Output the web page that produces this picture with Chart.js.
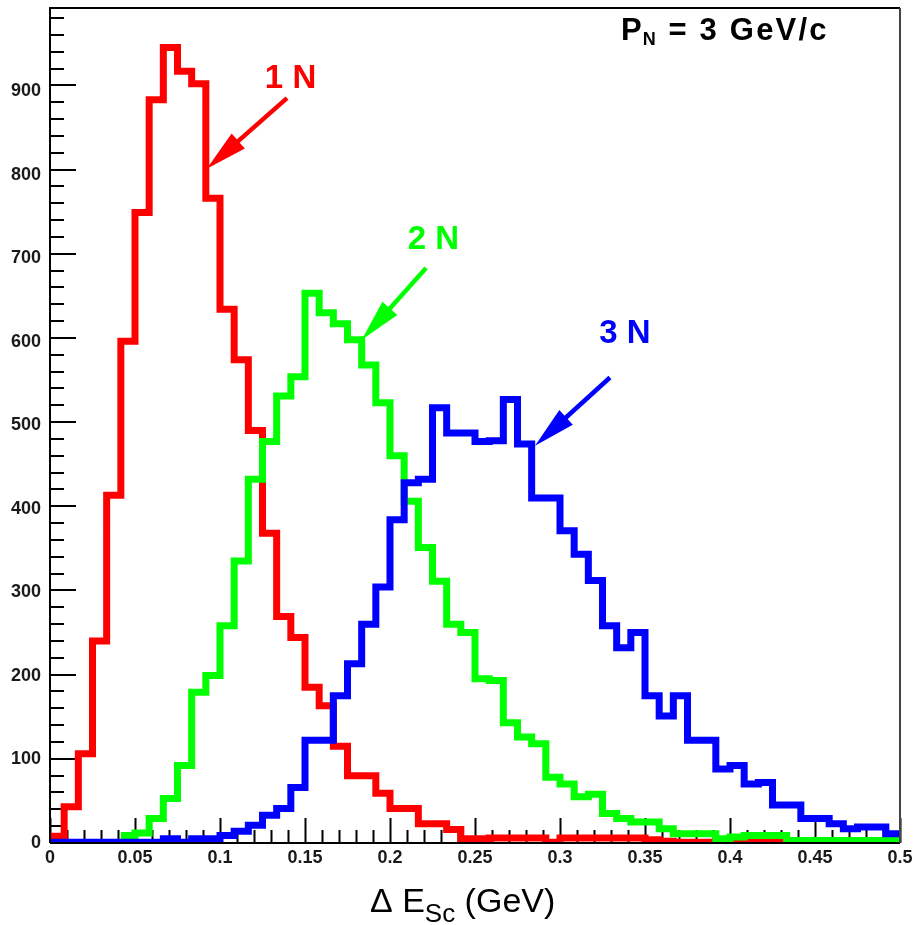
<!DOCTYPE html>
<html>
<head>
<meta charset="utf-8">
<script src="https://cdn.jsdelivr.net/npm/chart.js@4.4.1/dist/chart.umd.min.js"></script>
<style>
  html, body { margin: 0; padding: 0; background: #ffffff; }
  canvas { display: block; }
</style>
</head>
<body>
<canvas id="chart" width="917" height="925"></canvas>
<script>
// Histogram binning: 60 bins over 0 .. 0.5 GeV
const nBins = 60;
const xLow = 0;
const xHigh = 0.5;

// Counts per bin, one entry per bin (null = bin not filled / not drawn)
const counts1N = [
  8, 43, 106, 240, 413, 596, 749, 883, 945, 917,
  902, 766, 634, 574, 490, 368, 269, 244, 185, 163,
  115, 80, 80, 59, 41, 41, 23, 23, 16, 5,
  5, 6, 6, 6, 6, 1, 6, 6, 6, 6,
  6, 6, 4, 2, 1, 1, 1, 1, 1, 1,
  1, 1, 1, 0, 0, 0, 0, 0, 0, 0
];
const counts2N = [
  null, null, null, null, null, 9, 12, 29, 53, 92,
  179, 199, 258, 335, 432, 477, 531, 554, 653, 630,
  617, 598, 568, 523, 460, 406, 351, 311, 260, 250,
  195, 193, 143, 126, 118, 78, 70, 55, 58, 35,
  29, 25, 25, 17, 11, 11, 11, 5, 7, 9,
  9, 9, 3, 3, 3, 3, 3, 3, 3, 3
];
const counts3N = [
  1, 1, 1, 1, 1, 1, 1, 1, 5, 1,
  5, 5, 9, 14, 21, 33, 41, 66, 122, 122,
  175, 213, 260, 304, 384, 428, 432, 517, 487, 487,
  477, 478, 527, 474, 410, 410, 371, 343, 312, 258,
  232, 250, 175, 151, 175, 122, 122, 88, 92, 70,
  72, 45, 45, 29, 29, 23, 17, 19, 19, 11
];

const xTickLabels = ['0', '0.05', '0.1', '0.15', '0.2', '0.25', '0.3', '0.35', '0.4', '0.45', '0.5'];
const yTickLabels = ['0', '100', '200', '300', '400', '500', '600', '700', '800', '900'];
const yMax = 992;

// Arrow annotations pointing at each curve, in data coordinates
const annotations = [
  { text: '1 N', color: '#ff0000', label: [0.1415, 908], from: [0.1394, 885], to: [0.0922, 801] },
  { text: '2 N', color: '#00ff00', label: [0.2256, 716], from: [0.2212, 683], to: [0.1834, 598] },
  { text: '3 N', color: '#0000ff', label: [0.3382, 605], from: [0.3294, 553], to: [0.2853, 472] }
];

// Step-line vertices: one at the left edge of the first filled bin,
// then one at the right edge of every bin carrying that bin's count
function stepPoints(values) {
  const w = (xHigh - xLow) / nBins;
  const pts = [];
  let first = -1;
  values.forEach((v, k) => {
    if (v === null) return;
    if (first < 0) first = k;
    pts.push({ x: xLow + (k + 1) * w, y: v });
  });
  pts.unshift({ x: xLow + first * w, y: values[first] });
  return pts;
}

function histDataset(label, values, color) {
  return {
    label: label,
    data: stepPoints(values),
    stepped: 'after',
    borderColor: color,
    backgroundColor: color,
    borderWidth: 7,
    borderJoinStyle: 'miter',
    borderCapStyle: 'butt',
    pointRadius: 0,
    fill: false,
    tension: 0
  };
}

const FONT = "'Liberation Sans', Arial, Helvetica, sans-serif";

const decorations = {
  id: 'decorations',
  beforeDatasetsDraw(chart) {
    const ctx = chart.ctx;
    const xs = chart.scales.x, ys = chart.scales.y;
    const a = chart.chartArea;
    ctx.save();
    ctx.strokeStyle = '#000000';
    ctx.lineWidth = 2;
    ctx.beginPath();
    // x ticks every 0.01, major every 0.05
    for (let i = 0; i <= 50; i++) {
      const px = Math.round(xs.getPixelForValue(i / 100)) + 0.5;
      const len = (i % 5 === 0) ? 25 : 13;
      ctx.moveTo(px, a.bottom);
      ctx.lineTo(px, a.bottom - len);
    }
    // y ticks every 20, major every 100
    for (let i = 0; i * 20 < yMax; i++) {
      const py = Math.round(ys.getPixelForValue(i * 20));
      const len = (i % 5 === 0) ? 26 : 14;
      ctx.moveTo(a.left, py);
      ctx.lineTo(a.left + len, py);
    }
    ctx.stroke();
    ctx.restore();
  },
  afterDatasetsDraw(chart) {
    const ctx = chart.ctx;
    const xs = chart.scales.x, ys = chart.scales.y;
    const a = chart.chartArea;
    ctx.save();

    // frame
    ctx.lineWidth = 2;
    ctx.strokeStyle = '#000000';
    ctx.beginPath();
    ctx.moveTo(a.left, a.bottom);
    ctx.lineTo(a.left, a.top);
    ctx.lineTo(a.right, a.top);
    ctx.moveTo(a.left, a.bottom);
    ctx.lineTo(a.right, a.bottom);
    ctx.stroke();
    ctx.strokeStyle = '#444444';
    ctx.beginPath();
    ctx.moveTo(a.right, a.top);
    ctx.lineTo(a.right, a.bottom);
    ctx.stroke();

    // arrows + labels
    annotations.forEach(an => {
      const x0 = xs.getPixelForValue(an.from[0]), y0 = ys.getPixelForValue(an.from[1]);
      const x1 = xs.getPixelForValue(an.to[0]), y1 = ys.getPixelForValue(an.to[1]);
      const dx = x1 - x0, dy = y1 - y0;
      const L = Math.hypot(dx, dy);
      const ux = dx / L, uy = dy / L;
      const headLen = 42, headHalf = 10;
      const bx = x1 - ux * headLen, by = y1 - uy * headLen;
      ctx.strokeStyle = an.color;
      ctx.fillStyle = an.color;
      ctx.lineWidth = 4.5;
      ctx.lineCap = 'butt';
      ctx.beginPath();
      ctx.moveTo(x0, y0);
      ctx.lineTo(bx + ux * 2, by + uy * 2);
      ctx.stroke();
      ctx.beginPath();
      ctx.moveTo(x1, y1);
      ctx.lineTo(bx - uy * headHalf, by + ux * headHalf);
      ctx.lineTo(bx + uy * headHalf, by - ux * headHalf);
      ctx.closePath();
      ctx.fill();

      ctx.font = 'bold 33px ' + FONT;
      ctx.textAlign = 'center';
      ctx.textBaseline = 'middle';
      ctx.fillText(an.text, xs.getPixelForValue(an.label[0]), ys.getPixelForValue(an.label[1]));
    });

    // momentum label, upper right
    ctx.fillStyle = '#000000';
    ctx.textAlign = 'left';
    ctx.textBaseline = 'alphabetic';
    let tx = 621, ty = 40;
    ctx.font = 'bold 31px ' + FONT;
    ctx.fillText('P', tx, ty);
    tx += ctx.measureText('P').width + 1;
    ctx.font = 'bold 18px ' + FONT;
    ctx.fillText('N', tx, ty + 5);
    tx += ctx.measureText('N').width + 2;
    ctx.font = 'bold 31px ' + FONT;
    ctx.letterSpacing = '2.2px';
    ctx.fillText(' = 3 GeV/c', tx, ty);
    ctx.letterSpacing = '0px';

    // x axis title with subscript
    ctx.fillStyle = '#000000';
    let ax = 370, ay = 912;
    ctx.font = '34px ' + FONT;
    ctx.fillText('\u0394 E', ax, ay);
    ax += ctx.measureText('\u0394 E').width;
    ctx.font = '26px ' + FONT;
    ctx.fillText('Sc', ax, ay + 10);
    ax += ctx.measureText('Sc').width;
    ctx.font = '34px ' + FONT;
    ctx.fillText(' (GeV)', ax, ay);

    ctx.restore();
  }
};

new Chart(document.getElementById('chart'), {
  type: 'line',
  data: {
    datasets: [
      histDataset('3 N', counts3N, '#0000ff'),
      histDataset('2 N', counts2N, '#00ff00'),
      histDataset('1 N', counts1N, '#ff0000')
    ]
  },
  options: {
    responsive: false,
    animation: false,
    devicePixelRatio: 1,
    layout: { padding: { top: 8, right: 17, left: 0, bottom: 0 } },
    plugins: {
      legend: { display: false },
      tooltip: { enabled: false },
      title: { display: false }
    },
    scales: {
      x: {
        type: 'linear',
        min: xLow,
        max: xHigh,
        grid: { display: false, drawTicks: false },
        border: { display: false },
        afterFit(scale) {
          scale.height = 82;
          scale.paddingLeft = 0;
          scale.paddingRight = 0;
        },
        ticks: {
          stepSize: 0.05,
          autoSkip: false,
          maxRotation: 0,
          padding: 4,
          color: '#1a1a1a',
          font: { family: FONT, size: 18, weight: 'bold' },
          callback: (v, i) => xTickLabels[i]
        }
      },
      y: {
        type: 'linear',
        min: 0,
        max: yMax,
        grid: { display: false, drawTicks: false },
        border: { display: false },
        afterFit(scale) {
          scale.width = 50;
          scale.paddingTop = 0;
          scale.paddingBottom = 0;
        },
        ticks: {
          stepSize: 100,
          includeBounds: false,
          padding: 9,
          color: '#1a1a1a',
          font: { family: FONT, size: 18, weight: 'bold' },
          callback: (v, i) => yTickLabels[i]
        }
      }
    }
  },
  plugins: [decorations]
});
</script>
</body>
</html>
